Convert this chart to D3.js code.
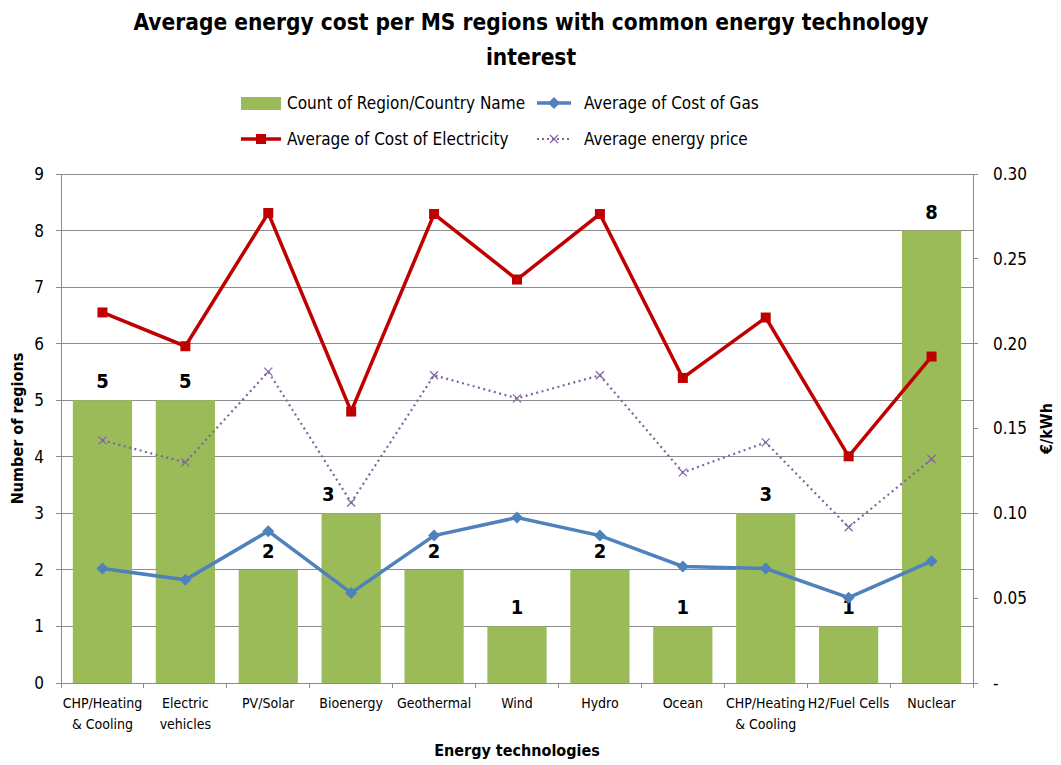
<!DOCTYPE html>
<html>
<head>
<meta charset="utf-8">
<script src="https://cdn.jsdelivr.net/npm/d3@7"></script>
<style>
  body { margin: 0; background: #fff; }
  svg text { font-family: "DejaVu Sans Condensed", "DejaVu Sans", sans-serif; font-stretch: condensed; fill: #000; }
  .title { font-weight: bold; font-size: 22.5px; }
  .axis-title { font-weight: bold; font-size: 16px; }
</style>
</head>
<body>
<svg id="chart" width="1061" height="765"></svg>
<script>
const categories = [
  ["CHP/Heating", "& Cooling"], ["Electric", "vehicles"], ["PV/Solar"], ["Bioenergy"],
  ["Geothermal"], ["Wind"], ["Hydro"], ["Ocean"], ["CHP/Heating", "& Cooling"],
  ["H2/Fuel Cells"], ["Nuclear"]
];
const regionCount = [5, 5, 2, 3, 2, 1, 2, 1, 3, 1, 8];
const costGas = [0.0675, 0.0608, 0.0895, 0.0531, 0.0869, 0.0975, 0.0869, 0.0687, 0.0675, 0.0503, 0.0718];
const costElectricity = [0.2184, 0.1985, 0.2770, 0.1600, 0.2764, 0.2378, 0.2764, 0.1798, 0.2154, 0.1336, 0.1924];
const energyPrice = [0.1430, 0.1300, 0.1835, 0.1064, 0.1814, 0.1678, 0.1814, 0.1241, 0.1418, 0.0918, 0.1320];
const leftTicks = d3.range(0, 10);
const rightTicks = [0, 0.05, 0.10, 0.15, 0.20, 0.25, 0.30];

const colors = { bar: "#9BBB59", gas: "#4F81BD", elec: "#C00000", price: "#8064A2", grid: "#8C8C8C" };

const svg = d3.select("#chart");
const margin = { left: 61, right: 1061 - 973, top: 174, bottom: 765 - 683 };
const width = 1061 - margin.left - margin.right;
const height = 765 - margin.top - margin.bottom;

const g = svg.append("g").attr("transform", `translate(${margin.left},${margin.top})`);

const x = d3.scaleBand()
  .domain(d3.range(categories.length))
  .range([0, width])
  .paddingInner(0.4 / 1.4)
  .paddingOuter(0.2 / 1.4);
const xBand = d3.scaleBand().domain(d3.range(categories.length)).range([0, width]);
const yLeft = d3.scaleLinear().domain([0, 9]).range([height, 0]);
const yRight = d3.scaleLinear().domain([0, 0.30]).range([height, 0]);

// Gridlines
g.append("g")
  .selectAll("line")
  .data(leftTicks)
  .join("line")
    .attr("x1", -5).attr("x2", width)
    .attr("y1", d => yLeft(d)).attr("y2", d => yLeft(d))
    .attr("stroke", colors.grid)
    .attr("stroke-width", 1)
    .attr("shape-rendering", "crispEdges");

// Bars
g.append("g")
  .selectAll("rect")
  .data(regionCount)
  .join("rect")
    .attr("x", (d, i) => x(i))
    .attr("width", x.bandwidth())
    .attr("y", d => yLeft(d))
    .attr("height", d => height - yLeft(d))
    .attr("fill", colors.bar);

// Axes lines
const axisLine = (x1, y1, x2, y2) => g.append("line")
  .attr("x1", x1).attr("y1", y1).attr("x2", x2).attr("y2", y2)
  .attr("stroke", colors.grid).attr("shape-rendering", "crispEdges");
axisLine(0, 0, 0, height);
axisLine(width, 0, width, height);
axisLine(0, height, width, height);

// Left tick labels
g.append("g")
  .selectAll("text")
  .data(leftTicks)
  .join("text")
    .attr("x", -17)
    .attr("y", d => yLeft(d))
    .attr("dy", "0.35em")
    .attr("text-anchor", "end")
    .style("font-size", "17px")
    .text(d => d);

// Right ticks + labels
const rt = g.append("g").attr("transform", `translate(${width},0)`);
rt.selectAll("line")
  .data(rightTicks)
  .join("line")
    .attr("x1", 0).attr("x2", 5)
    .attr("y1", d => yRight(d)).attr("y2", d => yRight(d))
    .attr("stroke", colors.grid).attr("shape-rendering", "crispEdges");
rt.selectAll("text")
  .data(rightTicks)
  .join("text")
    .attr("x", 20)
    .attr("y", d => yRight(d))
    .attr("dy", "0.35em")
    .style("font-size", "17px")
    .text(d => d === 0 ? "-" : d3.format(".2f")(d));

// Bottom ticks between categories
g.append("g")
  .selectAll("line")
  .data(d3.range(categories.length + 1))
  .join("line")
    .attr("x1", i => i * xBand.step()).attr("x2", i => i * xBand.step())
    .attr("y1", height).attr("y2", height + 5)
    .attr("stroke", colors.grid).attr("shape-rendering", "crispEdges");

// Category labels
const catLabels = g.append("g")
  .selectAll("text")
  .data(categories)
  .join("text")
    .attr("text-anchor", "middle")
    .attr("transform", (d, i) => `translate(${x(i) + x.bandwidth() / 2},${height + 25})`)
    .style("font-size", "14px");
catLabels.selectAll("tspan")
  .data(d => d)
  .join("tspan")
    .attr("x", 0)
    .attr("dy", (d, i) => i === 0 ? 0 : 21)
    .text(d => d);

// Data labels on bars (the Bioenergy one sits left of the marker, as Excel placed it)
g.append("g")
  .selectAll("text")
  .data(regionCount)
  .join("text")
    .attr("x", (d, i) => x(i) + x.bandwidth() / 2 + (i === 3 ? -23 : 0))
    .attr("y", d => yLeft(d) - 12)
    .attr("text-anchor", "middle")
    .style("font-family", "'DejaVu Sans', sans-serif")
    .style("font-weight", "bold")
    .style("font-size", "20px")
    .text(d => d);

// Lines
const cx = i => x(i) + x.bandwidth() / 2;
const lineGen = d3.line().x((d, i) => cx(i)).y(d => yRight(d));

g.append("path")
  .datum(energyPrice)
  .attr("d", lineGen)
  .attr("fill", "none")
  .attr("stroke", colors.price)
  .attr("stroke-width", 2.2)
  .attr("stroke-dasharray", "2,3.5");
g.append("g")
  .selectAll("path")
  .data(energyPrice)
  .join("path")
    .attr("transform", (d, i) => `translate(${cx(i)},${yRight(d)})`)
    .attr("d", "M-4,-4L4,4M-4,4L4,-4")
    .attr("stroke", colors.price)
    .attr("stroke-width", 1.2);

g.append("path")
  .datum(costGas)
  .attr("d", lineGen)
  .attr("fill", "none")
  .attr("stroke", colors.gas)
  .attr("stroke-width", 3.5);
g.append("g")
  .selectAll("path")
  .data(costGas)
  .join("path")
    .attr("transform", (d, i) => `translate(${cx(i)},${yRight(d)})`)
    .attr("d", "M0,-6L6,0L0,6L-6,0Z")
    .attr("fill", colors.gas);

g.append("path")
  .datum(costElectricity)
  .attr("d", lineGen)
  .attr("fill", "none")
  .attr("stroke", colors.elec)
  .attr("stroke-width", 3.5);
g.append("g")
  .selectAll("rect")
  .data(costElectricity)
  .join("rect")
    .attr("x", (d, i) => cx(i) - 5)
    .attr("y", d => yRight(d) - 5)
    .attr("width", 10).attr("height", 10)
    .attr("fill", colors.elec);

// Title
const title = svg.append("text")
  .attr("class", "title")
  .attr("text-anchor", "middle")
  .attr("x", 531);
title.append("tspan").attr("x", 531).attr("y", 30).text("Average energy cost per MS regions with common energy technology");
title.append("tspan").attr("x", 531).attr("y", 65).text("interest");

// Axis titles
svg.append("text")
  .attr("class", "axis-title")
  .attr("text-anchor", "middle")
  .attr("x", margin.left + width / 2)
  .attr("y", 756)
  .text("Energy technologies");
svg.append("text")
  .attr("class", "axis-title")
  .attr("text-anchor", "middle")
  .attr("transform", `translate(23,${margin.top + height / 2}) rotate(-90)`)
  .text("Number of regions");
svg.append("text")
  .attr("class", "axis-title")
  .attr("text-anchor", "middle")
  .attr("transform", `translate(1052,${margin.top + height / 2}) rotate(-90)`)
  .text("€/kWh");

// Legend
const legendItems = [
  { label: "Count of Region/Country Name", type: "bar", color: colors.bar, lx: 241, ly: 103 },
  { label: "Average of Cost of Gas", type: "gas", color: colors.gas, lx: 537, ly: 103 },
  { label: "Average of Cost of Electricity", type: "elec", color: colors.elec, lx: 241, ly: 139 },
  { label: "Average energy price", type: "price", color: colors.price, lx: 537, ly: 139 }
];
const legend = svg.append("g")
  .selectAll("g")
  .data(legendItems)
  .join("g")
    .attr("transform", d => `translate(${d.lx},${d.ly})`);
legend.each(function(d) {
  const el = d3.select(this);
  const w = d.type === "bar" || d.type === "elec" ? 40 : 34;
  if (d.type === "bar") {
    el.append("rect").attr("x", 0).attr("y", -6).attr("width", 40).attr("height", 13).attr("fill", d.color);
  } else {
    el.append("line").attr("x1", 0).attr("x2", w).attr("y1", 0).attr("y2", 0)
      .attr("stroke", d.color)
      .attr("stroke-width", d.type === "price" ? 2 : 3.5)
      .attr("stroke-dasharray", d.type === "price" ? "2,3" : null);
    const c = w / 2;
    if (d.type === "gas") el.append("path").attr("d", `M${c},-6L${c + 6},0L${c},6L${c - 6},0Z`).attr("fill", d.color);
    if (d.type === "elec") el.append("rect").attr("x", c - 5).attr("y", -5).attr("width", 10).attr("height", 10).attr("fill", d.color);
    if (d.type === "price") el.append("path").attr("d", `M${c - 4},-4L${c + 4},4M${c - 4},4L${c + 4},-4`).attr("stroke", d.color).attr("stroke-width", 1.2);
  }
  el.append("text")
    .attr("x", d.type === "bar" || d.type === "elec" ? 46 : 47)
    .attr("dy", "0.35em")
    .style("font-size", "17px")
    .text(d.label);
});
</script>
</body>
</html>
